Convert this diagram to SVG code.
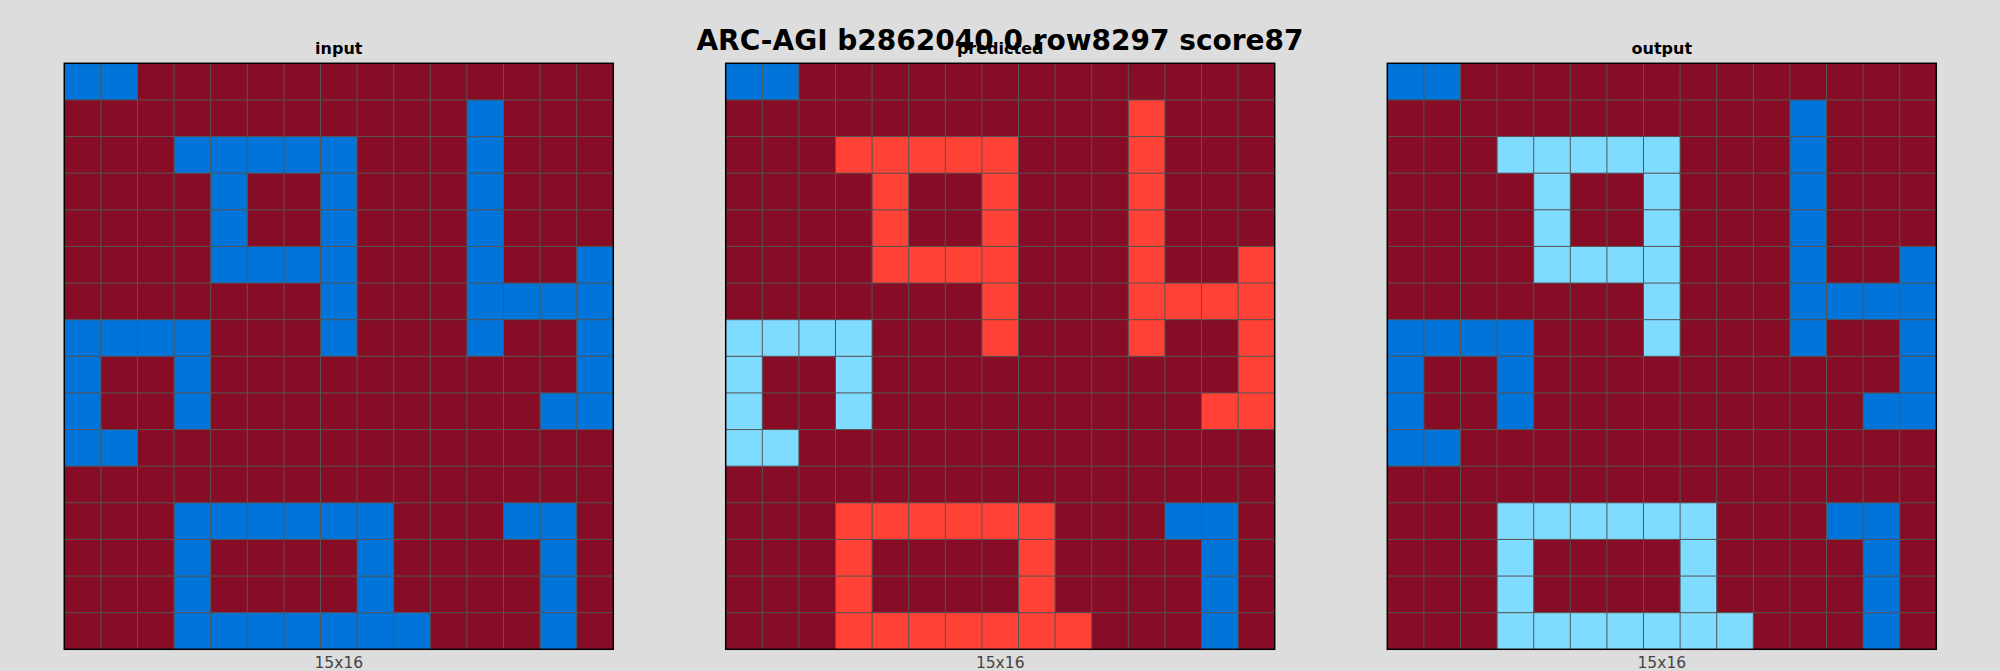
<svg xmlns="http://www.w3.org/2000/svg" xmlns:xlink="http://www.w3.org/1999/xlink" width="2000" height="671" viewBox="0 0 2000 671">
<style>
.bg{fill:#870C25}
.b{fill:#0074D9}
.a{fill:#7FDBFF}
.r{fill:#FF4136}
.gl{fill:none;stroke:#555555;stroke-width:1}
.bd{fill:none;stroke:#000000;stroke-width:1.5}
.st{font-family:"DejaVu Sans",sans-serif;font-weight:bold;font-size:16px;fill:#000;text-anchor:middle}
.sz{font-family:"DejaVu Sans",sans-serif;font-size:15.5px;fill:#444;text-anchor:middle}
.tt{font-family:"DejaVu Sans",sans-serif;font-weight:bold;font-size:28px;fill:#000;text-anchor:middle}
</style>
<defs>
<path id="lines" class="gl" d="M36.6 0V586M73.2 0V586M109.8 0V586M146.4 0V586M183 0V586M219.6 0V586M256.2 0V586M292.8 0V586M329.4 0V586M366 0V586M402.6 0V586M439.2 0V586M475.8 0V586M512.4 0V586M0 36.625H549M0 73.25H549M0 109.875H549M0 146.5H549M0 183.125H549M0 219.75H549M0 256.375H549M0 293H549M0 329.625H549M0 366.25H549M0 402.875H549M0 439.5H549M0 476.125H549M0 512.75H549M0 549.375H549"/>
</defs>
<rect width="2000" height="671" fill="#DDDDDD"/>
<text class="tt" x="1000" y="50">ARC-AGI b2862040 0 row8297 score87</text>

<g id="input">
<text class="st" x="338.8" y="54">input</text>
<g transform="translate(64.3,63.3)">
<rect class="bg" width="549" height="586"/>
<g class="b">
<rect x="0" y="0" width="73.2" height="36.625"/>
<rect x="402.6" y="36.625" width="36.6" height="36.625"/>
<rect x="109.8" y="73.25" width="183" height="36.625"/>
<rect x="402.6" y="73.25" width="36.6" height="36.625"/>
<rect x="146.4" y="109.875" width="36.6" height="36.625"/>
<rect x="256.2" y="109.875" width="36.6" height="36.625"/>
<rect x="402.6" y="109.875" width="36.6" height="36.625"/>
<rect x="146.4" y="146.5" width="36.6" height="36.625"/>
<rect x="256.2" y="146.5" width="36.6" height="36.625"/>
<rect x="402.6" y="146.5" width="36.6" height="36.625"/>
<rect x="146.4" y="183.125" width="146.4" height="36.625"/>
<rect x="402.6" y="183.125" width="36.6" height="36.625"/>
<rect x="512.4" y="183.125" width="36.6" height="36.625"/>
<rect x="256.2" y="219.75" width="36.6" height="36.625"/>
<rect x="402.6" y="219.75" width="146.4" height="36.625"/>
<rect x="0" y="256.375" width="146.4" height="36.625"/>
<rect x="256.2" y="256.375" width="36.6" height="36.625"/>
<rect x="402.6" y="256.375" width="36.6" height="36.625"/>
<rect x="512.4" y="256.375" width="36.6" height="36.625"/>
<rect x="0" y="293" width="36.6" height="36.625"/>
<rect x="109.8" y="293" width="36.6" height="36.625"/>
<rect x="512.4" y="293" width="36.6" height="36.625"/>
<rect x="0" y="329.625" width="36.6" height="36.625"/>
<rect x="109.8" y="329.625" width="36.6" height="36.625"/>
<rect x="475.8" y="329.625" width="73.2" height="36.625"/>
<rect x="0" y="366.25" width="73.2" height="36.625"/>
<rect x="109.8" y="439.5" width="219.6" height="36.625"/>
<rect x="439.2" y="439.5" width="73.2" height="36.625"/>
<rect x="109.8" y="476.125" width="36.6" height="36.625"/>
<rect x="292.8" y="476.125" width="36.6" height="36.625"/>
<rect x="475.8" y="476.125" width="36.6" height="36.625"/>
<rect x="109.8" y="512.75" width="36.6" height="36.625"/>
<rect x="292.8" y="512.75" width="36.6" height="36.625"/>
<rect x="475.8" y="512.75" width="36.6" height="36.625"/>
<rect x="109.8" y="549.375" width="256.2" height="36.625"/>
<rect x="475.8" y="549.375" width="36.6" height="36.625"/>
</g>
<use xlink:href="#lines"/>
<rect class="bd" width="549" height="586"/>
</g>
<text class="sz" x="338.8" y="668">15x16</text>
</g>

<g id="predicted">
<text class="st" x="1000.2" y="54">predicted</text>
<g transform="translate(725.7,63.3)">
<rect class="bg" width="549" height="586"/>
<g class="b">
<rect x="0" y="0" width="73.2" height="36.625"/>
<rect x="439.2" y="439.5" width="73.2" height="36.625"/>
<rect x="475.8" y="476.125" width="36.6" height="36.625"/>
<rect x="475.8" y="512.75" width="36.6" height="36.625"/>
<rect x="475.8" y="549.375" width="36.6" height="36.625"/>
</g>
<g class="r">
<rect x="402.6" y="36.625" width="36.6" height="36.625"/>
<rect x="109.8" y="73.25" width="183" height="36.625"/>
<rect x="402.6" y="73.25" width="36.6" height="36.625"/>
<rect x="146.4" y="109.875" width="36.6" height="36.625"/>
<rect x="256.2" y="109.875" width="36.6" height="36.625"/>
<rect x="402.6" y="109.875" width="36.6" height="36.625"/>
<rect x="146.4" y="146.5" width="36.6" height="36.625"/>
<rect x="256.2" y="146.5" width="36.6" height="36.625"/>
<rect x="402.6" y="146.5" width="36.6" height="36.625"/>
<rect x="146.4" y="183.125" width="146.4" height="36.625"/>
<rect x="402.6" y="183.125" width="36.6" height="36.625"/>
<rect x="512.4" y="183.125" width="36.6" height="36.625"/>
<rect x="256.2" y="219.75" width="36.6" height="36.625"/>
<rect x="402.6" y="219.75" width="146.4" height="36.625"/>
<rect x="256.2" y="256.375" width="36.6" height="36.625"/>
<rect x="402.6" y="256.375" width="36.6" height="36.625"/>
<rect x="512.4" y="256.375" width="36.6" height="36.625"/>
<rect x="512.4" y="293" width="36.6" height="36.625"/>
<rect x="475.8" y="329.625" width="73.2" height="36.625"/>
<rect x="109.8" y="439.5" width="219.6" height="36.625"/>
<rect x="109.8" y="476.125" width="36.6" height="36.625"/>
<rect x="292.8" y="476.125" width="36.6" height="36.625"/>
<rect x="109.8" y="512.75" width="36.6" height="36.625"/>
<rect x="292.8" y="512.75" width="36.6" height="36.625"/>
<rect x="109.8" y="549.375" width="256.2" height="36.625"/>
</g>
<g class="a">
<rect x="0" y="256.375" width="146.4" height="36.625"/>
<rect x="0" y="293" width="36.6" height="36.625"/>
<rect x="109.8" y="293" width="36.6" height="36.625"/>
<rect x="0" y="329.625" width="36.6" height="36.625"/>
<rect x="109.8" y="329.625" width="36.6" height="36.625"/>
<rect x="0" y="366.25" width="73.2" height="36.625"/>
</g>
<use xlink:href="#lines"/>
<rect class="bd" width="549" height="586"/>
</g>
<text class="sz" x="1000.2" y="668">15x16</text>
</g>

<g id="output">
<text class="st" x="1661.8" y="54">output</text>
<g transform="translate(1387.3,63.3)">
<rect class="bg" width="549" height="586"/>
<g class="b">
<rect x="0" y="0" width="73.2" height="36.625"/>
<rect x="402.6" y="36.625" width="36.6" height="36.625"/>
<rect x="402.6" y="73.25" width="36.6" height="36.625"/>
<rect x="402.6" y="109.875" width="36.6" height="36.625"/>
<rect x="402.6" y="146.5" width="36.6" height="36.625"/>
<rect x="402.6" y="183.125" width="36.6" height="36.625"/>
<rect x="512.4" y="183.125" width="36.6" height="36.625"/>
<rect x="402.6" y="219.75" width="146.4" height="36.625"/>
<rect x="0" y="256.375" width="146.4" height="36.625"/>
<rect x="402.6" y="256.375" width="36.6" height="36.625"/>
<rect x="512.4" y="256.375" width="36.6" height="36.625"/>
<rect x="0" y="293" width="36.6" height="36.625"/>
<rect x="109.8" y="293" width="36.6" height="36.625"/>
<rect x="512.4" y="293" width="36.6" height="36.625"/>
<rect x="0" y="329.625" width="36.6" height="36.625"/>
<rect x="109.8" y="329.625" width="36.6" height="36.625"/>
<rect x="475.8" y="329.625" width="73.2" height="36.625"/>
<rect x="0" y="366.25" width="73.2" height="36.625"/>
<rect x="439.2" y="439.5" width="73.2" height="36.625"/>
<rect x="475.8" y="476.125" width="36.6" height="36.625"/>
<rect x="475.8" y="512.75" width="36.6" height="36.625"/>
<rect x="475.8" y="549.375" width="36.6" height="36.625"/>
</g>
<g class="a">
<rect x="109.8" y="73.25" width="183" height="36.625"/>
<rect x="146.4" y="109.875" width="36.6" height="36.625"/>
<rect x="256.2" y="109.875" width="36.6" height="36.625"/>
<rect x="146.4" y="146.5" width="36.6" height="36.625"/>
<rect x="256.2" y="146.5" width="36.6" height="36.625"/>
<rect x="146.4" y="183.125" width="146.4" height="36.625"/>
<rect x="256.2" y="219.75" width="36.6" height="36.625"/>
<rect x="256.2" y="256.375" width="36.6" height="36.625"/>
<rect x="109.8" y="439.5" width="219.6" height="36.625"/>
<rect x="109.8" y="476.125" width="36.6" height="36.625"/>
<rect x="292.8" y="476.125" width="36.6" height="36.625"/>
<rect x="109.8" y="512.75" width="36.6" height="36.625"/>
<rect x="292.8" y="512.75" width="36.6" height="36.625"/>
<rect x="109.8" y="549.375" width="256.2" height="36.625"/>
</g>
<use xlink:href="#lines"/>
<rect class="bd" width="549" height="586"/>
</g>
<text class="sz" x="1661.8" y="668">15x16</text>
</g>

<g id="connectors"></g>
</svg>
